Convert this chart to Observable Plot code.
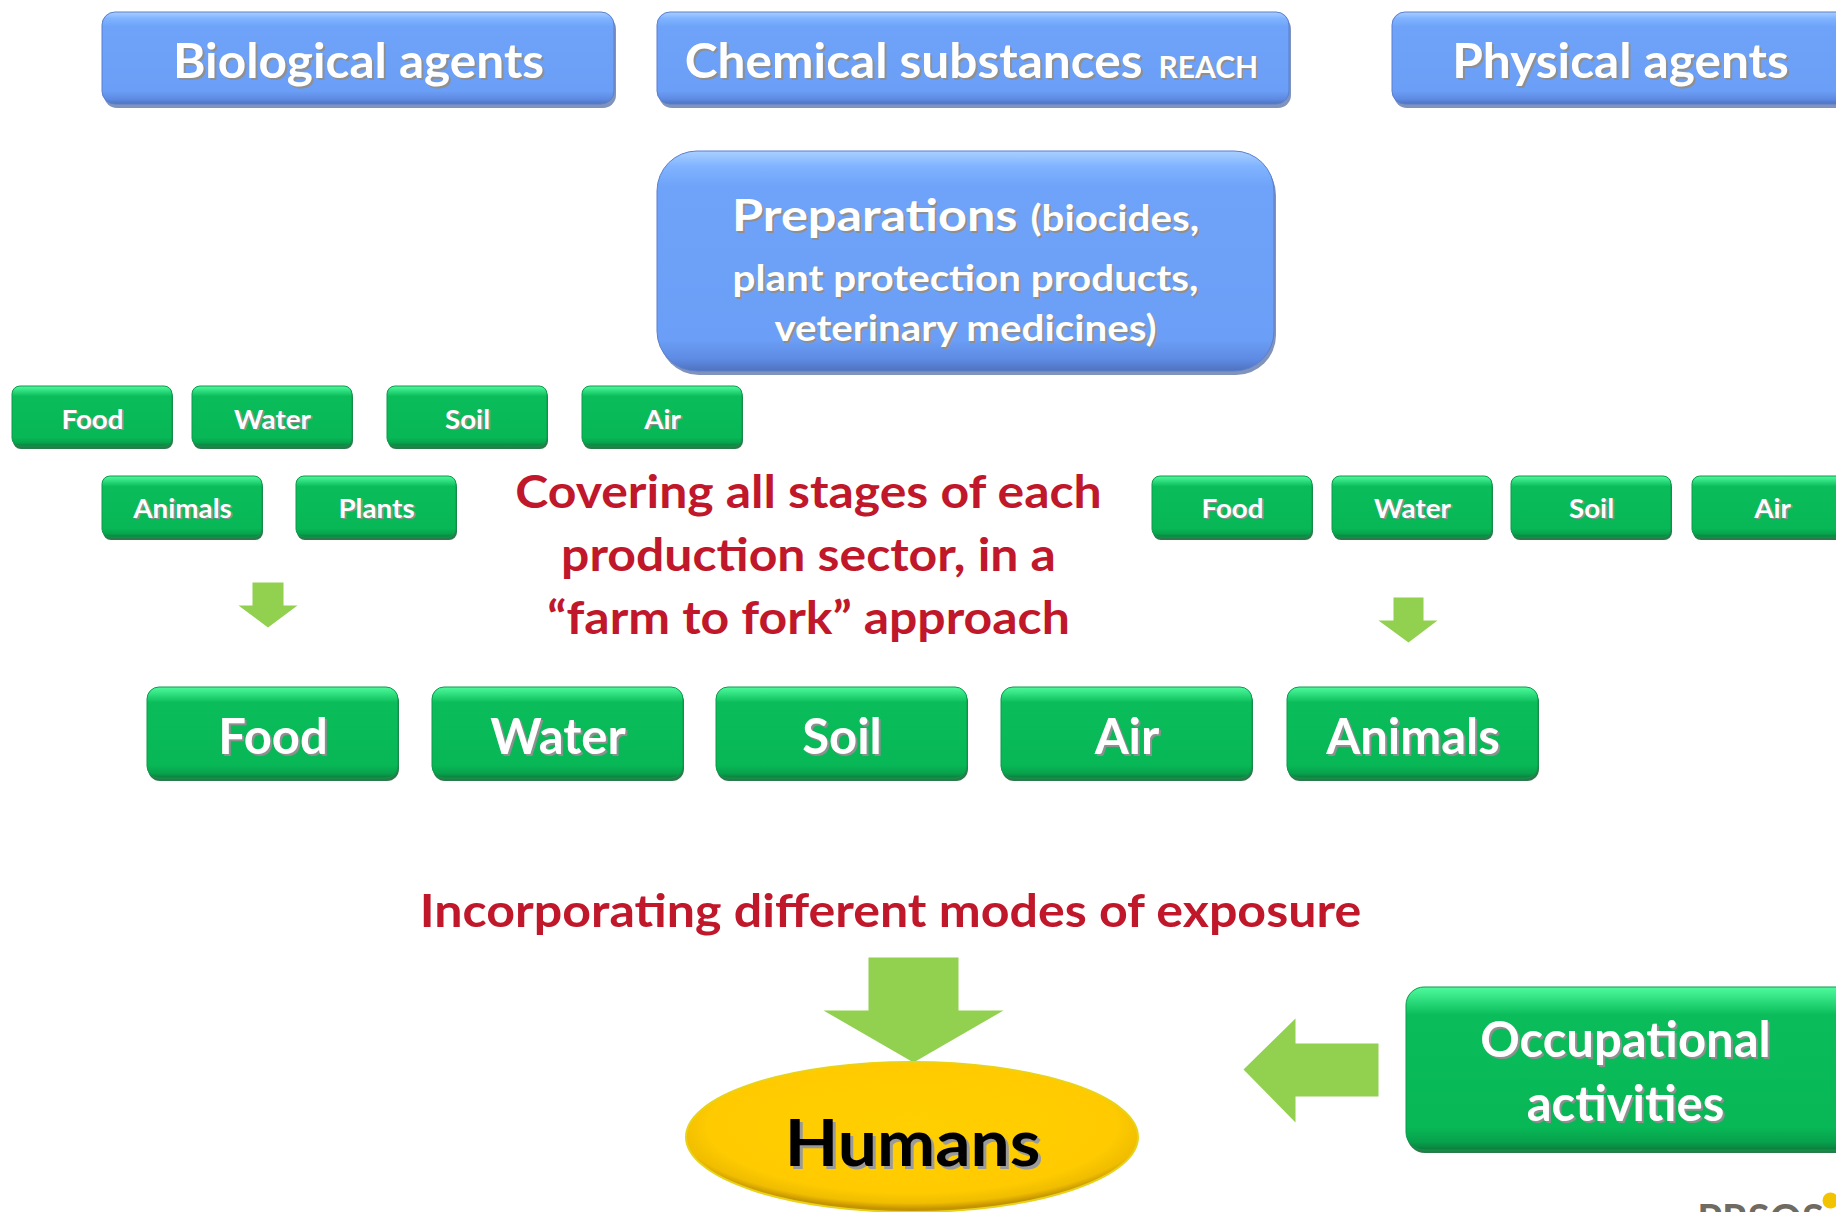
<!DOCTYPE html>
<html><head><meta charset="utf-8">
<script src="https://cdn.jsdelivr.net/npm/d3@7"></script>
<script src="https://cdn.jsdelivr.net/npm/@observablehq/plot@0.6"></script>
<style>html,body{margin:0;padding:0;overflow:hidden;background:#fff}</style>
</head><body><div id="chart"></div>
<script>
// ---- labels (content) ----
const sourceLabels = ["Biological agents", "Chemical substances", "Physical agents"];
const reachLabel = "REACH";
const prepHead = "Preparations";
const prepLines = ["(biocides,", "plant protection products,", "veterinary medicines)"];
const smallRow1Labels = ["Food", "Water", "Soil", "Air"];
const smallRow2Labels = ["Animals", "Plants"];
const smallRightLabels = ["Food", "Water", "Soil", "Air"];
const mediaLabels = ["Food", "Water", "Soil", "Air", "Animals"];
const coveringLines = ["Covering all stages of each", "production sector, in a", "\u201cfarm to fork\u201d approach"];
const exposureLabel = "Incorporating different modes of exposure";
const humansLabel = "Humans";
const occupationalLines = ["Occupational", "activities"];
const logoLabel = "PRSOS";

// ---- layout (diagram coordinates, px) ----
const sourceX = [[102, 614], [657, 1289], [1392, 1900]];
const sourceY = [12, 104];
const sourceTextX = [358, 1142, 1620];
const prepBox = {x1: 657, x2: 1274, y1: 151, y2: 371};
const smallRow1X = [12, 192, 387, 582];
const smallRow2X = [102, 296];
const smallRightX = [1152, 1332, 1511, 1692];
const smallW = 160;
const smallRow1Y = [386, 446];
const smallRow2Y = [476, 537];
const mediaX = [147, 432, 716, 1001, 1287];
const mediaW = 251;
const mediaY = [687, 778];
const humansBox = {x1: 686, x2: 1138, y1: 1062, y2: 1212};
const occBox = {x1: 1406, x2: 1900, y1: 987, y2: 1150};

const arrows = [
  {id: "a1", pts: [[252,582],[283,582],[283,605],[297,605],[267.5,627],[238,605],[252,605]]},
  {id: "a2", pts: [[1393,597],[1423,597],[1423,620],[1437,620],[1408,642],[1378,620],[1393,620]]},
  {id: "a3", pts: [[868,957],[958,957],[958,1010],[1003,1010],[913,1062],[823,1010],[868,1010]]},
  {id: "a4", pts: [[1378,1043],[1295,1043],[1295,1018],[1243,1069],[1295,1122],[1295,1096],[1378,1096]]}
];

// ---- derived tables ----
const sourceBoxes = sourceLabels.map((t, i) => ({t, x1: sourceX[i][0], x2: sourceX[i][1], y1: sourceY[0], y2: sourceY[1]}));
const mkRow = (labels, xs, w, ys) => labels.map((t, i) => ({t, x1: xs[i], x2: xs[i] + w, y1: ys[0], y2: ys[1], cx: xs[i] + w / 2}));
const smallBoxes = [
  ...mkRow(smallRow1Labels, smallRow1X, smallW, smallRow1Y).map(d => ({...d, by: 428})),
  ...mkRow(smallRow2Labels, smallRow2X, smallW, smallRow2Y).map(d => ({...d, by: 517})),
  ...mkRow(smallRightLabels, smallRightX, smallW, smallRow2Y).map(d => ({...d, by: 517}))
];
const mediaBoxes = mkRow(mediaLabels, mediaX, mediaW, mediaY);
const arrowPts = arrows.flatMap(a => a.pts.map(([x, y]) => ({id: a.id, x, y})));

const sourceTexts = sourceLabels.map((t, i) => ({t, x: sourceTextX[i], y: 77}));
const coveringTexts = coveringLines.map((t, i) => ({t, x: 808, y: [507, 570, 633][i]}));
const occTexts = occupationalLines.map((t, i) => ({t, x: 1625, y: [1056, 1120][i]}));

const FONT = "Lato, 'Open Sans', sans-serif";
const WHITE = "#ffffff", SHADOW = "#8f8f8f", RED = "#c0172a", ARROW = "#92d050";

function defs() {
  const d = document.createElementNS("http://www.w3.org/2000/svg", "defs");
  d.innerHTML = `
  <linearGradient id="gBlue" x1="0" y1="0" x2="0" y2="1">
    <stop offset="0" stop-color="#a9d0ff"/><stop offset="0.07" stop-color="#80b3ff"/>
    <stop offset="0.16" stop-color="#6fa3f9"/><stop offset="0.86" stop-color="#6b9ef6"/>
    <stop offset="0.95" stop-color="#5d89e2"/><stop offset="1" stop-color="#4f72bd"/>
  </linearGradient>
  <linearGradient id="gGreen" x1="0" y1="0" x2="0" y2="1">
    <stop offset="0" stop-color="#4ffb9c"/><stop offset="0.07" stop-color="#33e283"/>
    <stop offset="0.17" stop-color="#0abd5a"/><stop offset="0.86" stop-color="#08b756"/>
    <stop offset="0.95" stop-color="#07a24c"/><stop offset="1" stop-color="#0b7c3d"/>
  </linearGradient>
  <radialGradient id="gGold" cx="0.5" cy="0.42" r="0.56">
    <stop offset="0" stop-color="#ffcf00"/><stop offset="0.8" stop-color="#ffcb00"/>
    <stop offset="0.93" stop-color="#f0bd00"/><stop offset="1" stop-color="#c49300"/>
  </radialGradient>`;
  return d;
}

// horizontal stretch of glyphs about each text's anchor point
function stretch(k) {
  return {
    render(index, scales, values, dimensions, context, next) {
      const g = next(index, scales, values, dimensions, context);
      if (k !== 1) d3.select(g).selectAll("text").each(function () {
        const t = this.getAttribute("transform");
        if (t) this.setAttribute("transform", t + ` scale(${k},1)`);
        else {
          const x = +this.getAttribute("x") || 0, y = +this.getAttribute("y") || 0;
          this.setAttribute("transform", `translate(${x},${y}) scale(${k},1) translate(${-x},${-y})`);
        }
      });
      return g;
    }
  };
}

function label(data, opts, k = 1) {
  const {shadow, off, ...o} = opts;
  return [
    Plot.text(data, {...o, fill: shadow || SHADOW, dx: off ?? 2, dy: off ?? 2, ...stretch(k)}),
    Plot.text(data, {...o, ...stretch(k)})
  ];
}
const base = {x: "x", y: "y", text: "t", fontFamily: FONT, fontWeight: "bold", lineAnchor: "bottom"};

const chart = Plot.plot({
  width: 1836, height: 1212, margin: 0,
  x: {domain: [0, 1836], range: [0, 1836], axis: null},
  y: {domain: [0, 1212], range: [0, 1212], axis: null},
  style: {background: "#fff", overflow: "hidden"},
  marks: [
    defs,
    // blue source boxes
    Plot.rect(sourceBoxes, {x1: "x1", x2: "x2", y1: "y1", y2: "y2", rx: 13, fill: "#7f93bd", dx: 2, dy: 4}),
    Plot.rect(sourceBoxes, {x1: "x1", x2: "x2", y1: "y1", y2: "y2", rx: 13, fill: "url(#gBlue)", stroke: "#5a7fcf", strokeWidth: 1}),
    Plot.rect([prepBox], {x1: "x1", x2: "x2", y1: "y1", y2: "y2", rx: 40, fill: "#7f93bd", dx: 2, dy: 4}),
    Plot.rect([prepBox], {x1: "x1", x2: "x2", y1: "y1", y2: "y2", rx: 40, fill: "url(#gBlue)", stroke: "#5a7fcf", strokeWidth: 1}),
    // green boxes
    Plot.rect(smallBoxes, {x1: "x1", x2: "x2", y1: "y1", y2: "y2", rx: 8, fill: "#2b7a4b", dx: 1, dy: 3}),
    Plot.rect(smallBoxes, {x1: "x1", x2: "x2", y1: "y1", y2: "y2", rx: 8, fill: "url(#gGreen)", stroke: "#0a9a4a", strokeWidth: 1}),
    Plot.rect(mediaBoxes, {x1: "x1", x2: "x2", y1: "y1", y2: "y2", rx: 12, fill: "#2b7a4b", dx: 1, dy: 3}),
    Plot.rect(mediaBoxes, {x1: "x1", x2: "x2", y1: "y1", y2: "y2", rx: 12, fill: "url(#gGreen)", stroke: "#0a9a4a", strokeWidth: 1}),
    Plot.rect([occBox], {x1: "x1", x2: "x2", y1: "y1", y2: "y2", rx: 18, fill: "#2b7a4b", dx: 1, dy: 3}),
    Plot.rect([occBox], {x1: "x1", x2: "x2", y1: "y1", y2: "y2", rx: 18, fill: "url(#gGreen)", stroke: "#0a9a4a", strokeWidth: 1}),
    // arrows
    Plot.line(arrowPts, {x: "x", y: "y", z: "id", fill: ARROW, stroke: "none", curve: "linear-closed"}),
    // humans ellipse
    Plot.rect([humansBox], {x1: "x1", x2: "x2", y1: "y1", y2: "y2", rx: 226, ry: 75, fill: "url(#gGold)", stroke: "#e8d21a", strokeWidth: 2}),
    // texts on blue
    label(sourceTexts.filter((d, i) => i !== 1), {...base, fontSize: 47, fill: WHITE, textAnchor: "middle"}, 1.055),
    label(sourceTexts.filter((d, i) => i === 1), {...base, fontSize: 47, fill: WHITE, textAnchor: "end"}, 1.055),
    label([{t: reachLabel, x: 1158, y: 77}], {...base, fontSize: 30, fill: WHITE, textAnchor: "start"}, 1.0),
    label([{t: prepHead, x: 1017, y: 230}], {...base, fontSize: 44, fill: WHITE, textAnchor: "end"}, 1.145),
    label([{t: prepLines[0], x: 1030, y: 230}], {...base, fontSize: 37, fill: WHITE, textAnchor: "start"}, 1.09),
    label([{t: prepLines[1], x: 965, y: 290}, {t: prepLines[2], x: 965, y: 340}], {...base, fontSize: 37, fill: WHITE, textAnchor: "middle"}, 1.09),
    // texts on green
    label(smallBoxes, {...base, x: "cx", y: "by", fontSize: 26, fill: WHITE, off: 1.5}, 1.07),
    label(mediaBoxes, {...base, x: "cx", y: () => 753, fontSize: 49, fill: WHITE}, 1.0),
    label(occTexts, {...base, fontSize: 49, fill: WHITE}, 1.0),
    // red texts
    Plot.text(coveringTexts, {...base, fontSize: 46, fill: RED, ...stretch(1.085)}),
    Plot.text([{t: exposureLabel, x: 890, y: 926}], {...base, fontSize: 46, fill: RED, ...stretch(1.09)}),
    // humans
    label([{t: humansLabel, x: 912, y: 1165}], {...base, fontSize: 65, fill: "#000", shadow: "#9a9a9a", off: 3}, 1.07),
    // logo (cut off at the bottom edge, as in the source)
    Plot.text([{t: logoLabel, x: 1760, y: 1232}], {...base, fontSize: 40, fill: "#6f6a62"}),
    Plot.dot([{x: 1830, y: 1200}], {x: "x", y: "y", r: 8, fill: "#f2c300"})
  ]
});
document.getElementById("chart").appendChild(chart);
</script></body></html>
